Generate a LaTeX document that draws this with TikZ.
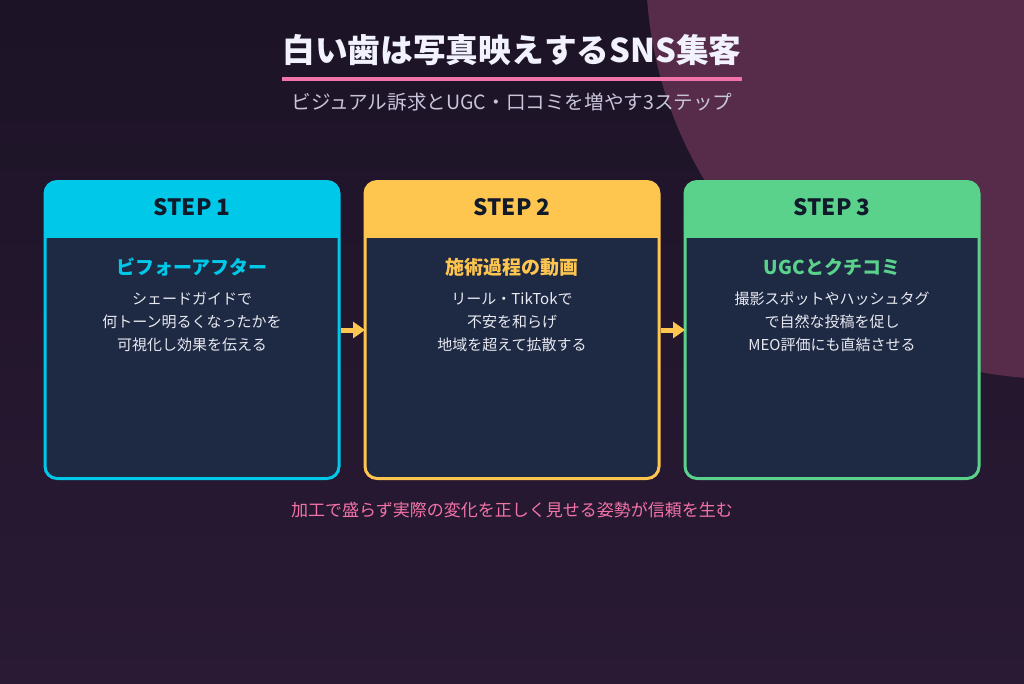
\documentclass[tikz,border=0pt]{standalone}
\usepackage{fontspec}
\setmainfont{Noto Sans CJK JP}
\usetikzlibrary{arrows.meta}

\definecolor{bgtop}{HTML}{1C1326}
\definecolor{bgbot}{HTML}{2A1A34}
\definecolor{blob}{HTML}{572C4B}
\definecolor{cardnavy}{HTML}{1E2A44}
\definecolor{stepcyan}{HTML}{00C8E8}
\definecolor{stepyellow}{HTML}{FFC64F}
\definecolor{stepgreen}{HTML}{5AD28C}
\definecolor{headink}{HTML}{111A2B}
\definecolor{accentpink}{HTML}{F273A8}
\definecolor{subgray}{HTML}{C8C5DA}
\definecolor{bodywhite}{HTML}{E8E9F1}

\begin{document}
\begin{tikzpicture}[x=1pt, y=-1pt,
  card/.style={minimum width=294pt, minimum height=297pt, rounded corners=12pt,
    line width=3pt, fill=cardnavy, outer sep=0pt, inner sep=0pt},
  steplabel/.style={font=\bfseries\fontsize{22.5}{26}\selectfont, text=headink},
  cardtitle/.style={font=\bfseries\fontsize{19}{22}\selectfont},
  cardtext/.style={font=\fontsize{15}{23}\selectfont, text=bodywhite, align=center},
  flowarrow/.style={stepyellow, line width=5pt, -{Triangle[width=16pt, length=12pt]},
    shorten <=2pt}]

% background
\clip (0,0) rectangle (1024,683);
\shade[top color=bgtop, bottom color=bgbot] (0,0) rectangle (1024,683);
\fill[blob] (1056,-31) circle[radius=410pt];

% heading
\node[font=\bfseries\fontsize{32.7}{38}\selectfont, text=white!95!blue, inner sep=0pt]
  (title) at (512,50) {白い歯は写真映えするSNS集客};
\draw[accentpink, line width=4pt] (title.west |- 0,79) -- (title.east |- 0,79);
\node[font=\fontsize{19.6}{23}\selectfont, text=subgray] (subtitle) at (512,102)
  {ビジュアル訴求とUGC・口コミを増やす3ステップ};

% cards
\foreach \i/\x/\col/\ttl/\txt in {
  1/192/stepcyan/ビフォーアフター/{シェードガイドで\\何トーン明るくなったかを\\可視化し効果を伝える},
  2/512/stepyellow/施術過程の動画/{リール・TikTokで\\不安を和らげ\\地域を超えて拡散する},
  3/832/stepgreen/UGCとクチコミ/{撮影スポットやハッシュタグ\\で自然な投稿を促し\\MEO評価にも直結させる}} {
\node[card, draw=\col] (card\i) at (\x,330) {};
\fill[\col, rounded corners=12pt] (card\i.north west) rectangle ([yshift=-56pt]card\i.north east);
\fill[\col] ([yshift=-28pt]card\i.north west) rectangle ([yshift=-56pt]card\i.north east);
\node[steplabel] (step\i) at (\x,207) {STEP \i};
\node[cardtitle, text=\col] (ttl\i) at (\x,267) {\ttl};
\node[cardtext] (txt\i) at (\x,322) {\txt};
}

% arrows
\draw[flowarrow] (card1) -- (card2);
\draw[flowarrow] (card2) -- (card3);

% bottom note
\node[font=\fontsize{17}{20}\selectfont, text=accentpink] (note) at (512,510)
  {加工で盛らず実際の変化を正しく見せる姿勢が信頼を生む};

\end{tikzpicture}
\end{document}
